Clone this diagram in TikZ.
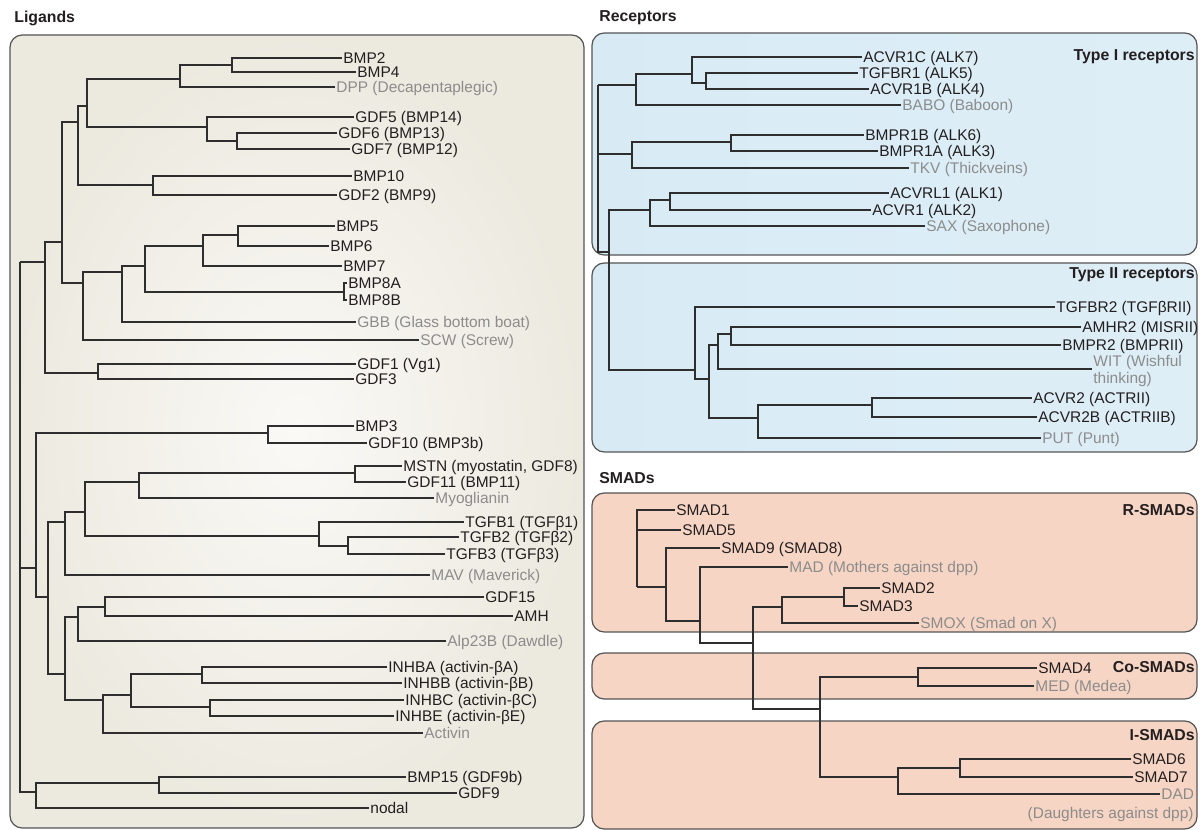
\documentclass[tikz,border=0pt]{standalone}
\usepackage{fontspec}
\setmainfont{Liberation Sans}
\usepackage{tikz}

\definecolor{branch}{HTML}{2E2E2E}
\definecolor{inktext}{HTML}{231F20}
\definecolor{flygray}{HTML}{8C8C8C}
\definecolor{frame}{HTML}{555555}
\definecolor{ligbg}{HTML}{ECE9DF}
\definecolor{ligmid}{HTML}{FAF9F6}
\definecolor{recbg}{HTML}{D8EBF5}
\definecolor{recmid}{HTML}{F8FBFD}
\definecolor{smadbg}{HTML}{F7D5C4}
\definecolor{smadmid}{HTML}{FFF9F6}

\begin{document}
\begin{tikzpicture}[x=0.02cm, y=-0.02cm,
  sp/.style={font=\fontsize{8.8}{10}\selectfont, inner sep=0.6pt, text height=7.2pt, text depth=1pt, anchor=west, text=inktext},
  fly/.style={sp, text=flygray},
  hd/.style={font=\fontsize{9}{10}\selectfont\bfseries, inner sep=0pt, text=inktext},
  br/.style={draw=branch, line width=0.75pt},
  panel/.style={draw=frame, line width=0.7pt, rounded corners=7pt}]
\useasboundingbox (0,0) rectangle (1200,830);

\shade[panel, inner color=ligmid, outer color=ligbg] (10,35) rectangle (584,828);
\shade[panel, left color=recbg, middle color=recmid, right color=recbg!85] (592,33) rectangle (1197,255);
\shade[panel, left color=recbg, middle color=recmid, right color=recbg!85] (592,263) rectangle (1197,452);
\shade[panel, left color=smadbg, middle color=smadmid, right color=smadbg] (592,493) rectangle (1197,632);
\shade[panel, left color=smadbg, middle color=smadmid, right color=smadbg] (592,653) rectangle (1197,699);
\shade[panel, left color=smadbg, middle color=smadmid, right color=smadbg] (592,721) rectangle (1197,829);

\node[hd, anchor=west] (ligt) at (14,18) {Ligands};
\node[hd, anchor=west] (rect) at (599,18) {Receptors};
\node[hd, anchor=west] (smadt) at (599,478) {SMADs};
\node[hd, anchor=east] (type1) at (1195,57) {Type I receptors};
\node[hd, anchor=east] (type2) at (1195,275) {Type II receptors};
\node[hd, anchor=east] (rsmad) at (1195,510) {R-SMADs};
\node[hd, anchor=east] (cosmad) at (1195,667) {Co-SMADs};
\node[hd, anchor=east] (ismad) at (1195,735) {I-SMADs};

\node[sp] (bmp2) at (342,58) {BMP2};
\node[sp] (bmp4) at (356,72) {BMP4};
\node[fly] (dpp) at (335,87) {DPP (Decapentaplegic)};
\node[sp] (gdf5) at (354,117) {GDF5 (BMP14)};
\node[sp] (gdf6) at (337,133) {GDF6 (BMP13)};
\node[sp] (gdf7) at (350,149) {GDF7 (BMP12)};
\node[sp] (bmp10) at (352,176) {BMP10};
\node[sp] (gdf2) at (337,195) {GDF2 (BMP9)};
\node[sp] (bmp5) at (335,226) {BMP5};
\node[sp] (bmp6) at (329,246) {BMP6};
\node[sp] (bmp7) at (342,266) {BMP7};
\node[sp] (bmp8a) at (347,283) {BMP8A};
\node[sp] (bmp8b) at (347,300) {BMP8B};
\node[fly] (gbb) at (356,322) {GBB (Glass bottom boat)};
\node[fly] (scw) at (419,340) {SCW (Screw)};
\node[sp] (gdf1) at (356,364) {GDF1 (Vg1)};
\node[sp] (gdf3) at (354,379) {GDF3};
\node[sp] (bmp3) at (354,426) {BMP3};
\node[sp] (gdf10) at (367,443) {GDF10 (BMP3b)};
\node[sp] (mstn) at (402,466) {MSTN (myostatin, GDF8)};
\node[sp] (gdf11) at (406,482) {GDF11 (BMP11)};
\node[fly] (myo) at (434,498) {Myoglianin};
\node[sp] (tgfb1) at (464,522) {TGFB1 (TGFβ1)};
\node[sp] (tgfb2) at (459,537) {TGFB2 (TGFβ2)};
\node[sp] (tgfb3) at (445,554) {TGFB3 (TGFβ3)};
\node[fly] (mav) at (430,575) {MAV (Maverick)};
\node[sp] (gdf15) at (484,597) {GDF15};
\node[sp] (amh) at (513,616) {AMH};
\node[fly] (alp) at (446,641) {Alp23B (Dawdle)};
\node[sp] (inhba) at (387,667) {INHBA (activin-βA)};
\node[sp] (inhbb) at (402,683) {INHBB (activin-βB)};
\node[sp] (inhbc) at (404,700) {INHBC (activin-βC)};
\node[sp] (inhbe) at (394,716) {INHBE (activin-βE)};
\node[fly] (act) at (423,733) {Activin};
\node[sp] (bmp15) at (406,777) {BMP15 (GDF9b)};
\node[sp] (gdf9) at (457,793) {GDF9};
\node[sp] (nodal) at (369,808) {nodal};

\coordinate (L0) at (20,262);
\coordinate (A1) at (45,262);
\coordinate (A2) at (62,242);
\coordinate (A3) at (78,122);
\coordinate (A4) at (87,106);
\coordinate (A5) at (180,79);
\coordinate (A6) at (232,65);
\coordinate (A7) at (207,127);
\coordinate (A8) at (237,141);
\coordinate (A9) at (153,185);
\coordinate (A10) at (83,283);
\coordinate (A11) at (122,272);
\coordinate (A12) at (145,266);
\coordinate (A13) at (203,246);
\coordinate (A14) at (344,292);
\coordinate (A15) at (238,235);
\coordinate (A16) at (98,373);
\coordinate (B1) at (36,568);
\coordinate (B2) at (268,433);
\coordinate (B3) at (48,597);
\coordinate (B4) at (65,522);
\coordinate (B5) at (65,674);
\coordinate (B6) at (85,512);
\coordinate (B7) at (139,482);
\coordinate (B8) at (319,536);
\coordinate (B9) at (355,473);
\coordinate (B10) at (348,546);
\coordinate (B11) at (78,617);
\coordinate (B12) at (103,700);
\coordinate (B13) at (105,607);
\coordinate (B14) at (131,695);
\coordinate (B15) at (202,674);
\coordinate (B16) at (210,707);
\coordinate (C1) at (36,792);
\coordinate (C2) at (159,783);

\draw[br] (L0) |- (A1) (L0) |- (B1) (L0) |- (C1);
\draw[br] (A1) |- (A2) (A1) |- (A16);
\draw[br] (A2) |- (A3) (A2) |- (A10);
\draw[br] (A3) |- (A4) (A3) |- (A9);
\draw[br] (A4) |- (A5) (A4) |- (A7);
\draw[br] (A5) |- (A6) (A5) |- (dpp);
\draw[br] (A6) |- (bmp2) (A6) |- (bmp4);
\draw[br] (A7) |- (gdf5) (A7) |- (A8);
\draw[br] (A8) |- (gdf6) (A8) |- (gdf7);
\draw[br] (A9) |- (bmp10) (A9) |- (gdf2);
\draw[br] (A10) |- (A11) (A10) |- (scw);
\draw[br] (A11) |- (A12) (A11) |- (gbb);
\draw[br] (A12) |- (A13) (A12) |- (A14);
\draw[br] (A13) |- (A15) (A13) |- (bmp7);
\draw[br] (A15) |- (bmp5) (A15) |- (bmp6);
\draw[br] (A14) |- (bmp8a) (A14) |- (bmp8b);
\draw[br] (A16) |- (gdf1) (A16) |- (gdf3);
\draw[br] (B1) |- (B2) (B1) |- (B3);
\draw[br] (B2) |- (bmp3) (B2) |- (gdf10);
\draw[br] (B3) |- (B4) (B3) |- (B5);
\draw[br] (B4) |- (B6) (B4) |- (mav);
\draw[br] (B6) |- (B7) (B6) |- (B8);
\draw[br] (B7) |- (B9) (B7) |- (myo);
\draw[br] (B9) |- (mstn) (B9) |- (gdf11);
\draw[br] (B8) |- (tgfb1) (B8) |- (B10);
\draw[br] (B10) |- (tgfb2) (B10) |- (tgfb3);
\draw[br] (B5) |- (B11) (B5) |- (B12);
\draw[br] (B11) |- (B13) (B11) |- (alp);
\draw[br] (B13) |- (gdf15) (B13) |- (amh);
\draw[br] (B12) |- (B14) (B12) |- (act);
\draw[br] (B14) |- (B15) (B14) |- (B16);
\draw[br] (B15) |- (inhba) (B15) |- (inhbb);
\draw[br] (B16) |- (inhbc) (B16) |- (inhbe);
\draw[br] (C1) |- (C2) (C1) |- (nodal);
\draw[br] (C2) |- (bmp15) (C2) |- (gdf9);

\node[sp] (acvr1c) at (862,57) {ACVR1C (ALK7)};
\node[sp] (tgfbr1) at (858,73) {TGFBR1 (ALK5)};
\node[sp] (acvr1b) at (869,89) {ACVR1B (ALK4)};
\node[fly] (babo) at (901,105) {BABO (Baboon)};
\node[sp] (bmpr1b) at (864,135) {BMPR1B (ALK6)};
\node[sp] (bmpr1a) at (878,151) {BMPR1A (ALK3)};
\node[fly] (tkv) at (909,168) {TKV (Thickveins)};
\node[sp] (acvrl1) at (889,193) {ACVRL1 (ALK1)};
\node[sp] (acvr1) at (871,210) {ACVR1 (ALK2)};
\node[fly] (sax) at (925,226) {SAX (Saxophone)};
\node[sp] (tgfbr2) at (1055,307) {TGFBR2 (TGFβRII)};
\node[sp] (amhr2) at (1081,327) {AMHR2 (MISRII)};
\node[sp] (bmpr2) at (1061,345) {BMPR2 (BMPRII)};
\node[fly] (wit) at (1092,361) {WIT (Wishful};
\node[fly, anchor=north west] (wit2) at (wit.south west) {thinking)};
\node[sp] (acvr2) at (1032,398) {ACVR2 (ACTRII)};
\node[sp] (acvr2b) at (1037,417) {ACVR2B (ACTRIIB)};
\node[fly] (put) at (1041,438) {PUT (Punt)};

\coordinate (R0) at (598,85);
\coordinate (R1) at (636,85);
\coordinate (R2) at (632,154);
\coordinate (R3) at (609,252);
\coordinate (R4) at (692,74);
\coordinate (R5) at (706,83);
\coordinate (R6) at (731,142);
\coordinate (R7) at (650,210);
\coordinate (R8) at (695,370);
\coordinate (R9) at (670,200);
\coordinate (R10) at (709,379);
\coordinate (R11) at (718,345);
\coordinate (R12) at (758,418);
\coordinate (R13) at (731,334);
\coordinate (R14) at (872,405);

\draw[br] (R0) |- (R1) (R0) |- (R2) (R0) |- (R3);
\draw[br] (R1) |- (R4) (R1) |- (babo);
\draw[br] (R4) |- (acvr1c) (R4) |- (R5);
\draw[br] (R5) |- (tgfbr1) (R5) |- (acvr1b);
\draw[br] (R2) |- (R6) (R2) |- (tkv);
\draw[br] (R6) |- (bmpr1b) (R6) |- (bmpr1a);
\draw[br] (R3) |- (R7) (R3) |- (R8);
\draw[br] (R7) |- (R9) (R7) |- (sax);
\draw[br] (R9) |- (acvrl1) (R9) |- (acvr1);
\draw[br] (R8) |- (tgfbr2) (R8) |- (R10);
\draw[br] (R10) |- (R11) (R10) |- (R12);
\draw[br] (R11) |- (R13) (R11) |- ([yshift=0.4pt]wit.south west);
\draw[br] (R13) |- (amhr2) (R13) |- (bmpr2);
\draw[br] (R12) |- (R14) (R12) |- (put);
\draw[br] (R14) |- (acvr2) (R14) |- (acvr2b);

\node[sp] (smad1) at (675,510) {SMAD1};
\node[sp] (smad5) at (681,530) {SMAD5};
\node[sp] (smad9) at (720,548) {SMAD9 (SMAD8)};
\node[fly] (mad) at (788,567) {MAD (Mothers against dpp)};
\node[sp] (smad2) at (880,588) {SMAD2};
\node[sp] (smad3) at (858,606) {SMAD3};
\node[fly] (smox) at (919,623) {SMOX (Smad on X)};
\node[sp] (smad4) at (1037,668) {SMAD4};
\node[fly] (med) at (1034,686) {MED (Medea)};
\node[sp] (smad6) at (1131,759) {SMAD6};
\node[sp] (smad7) at (1133,777) {SMAD7};
\node[fly] (dad) at (1160,794) {DAD};
\node[fly, anchor=east] (dad2) at (1195,813) {(Daughters against dpp)};

\coordinate (S0) at (637,587);
\coordinate (S1) at (666,587);
\coordinate (S2) at (700,621);
\coordinate (S3) at (753,643);
\coordinate (S4) at (782,607);
\coordinate (S5) at (820,709);
\coordinate (S6) at (844,597);
\coordinate (S7) at (918,677);
\coordinate (S8) at (898,777);
\coordinate (S9) at (960,768);

\draw[br] (S0) |- (smad1) (S0) |- (smad5) (S0) |- (S1);
\draw[br] (S1) |- (smad9) (S1) |- (S2);
\draw[br] (S2) |- (mad) (S2) |- (S3);
\draw[br] (S3) |- (S4) (S3) |- (S5);
\draw[br] (S4) |- (S6) (S4) |- (smox);
\draw[br] (S6) |- (smad2) (S6) |- (smad3);
\draw[br] (S5) |- (S7) (S5) |- (S8);
\draw[br] (S7) |- (smad4) (S7) |- (med);
\draw[br] (S8) |- (S9) (S8) |- (dad);
\draw[br] (S9) |- (smad6) (S9) |- (smad7);
\end{tikzpicture}
\end{document}
